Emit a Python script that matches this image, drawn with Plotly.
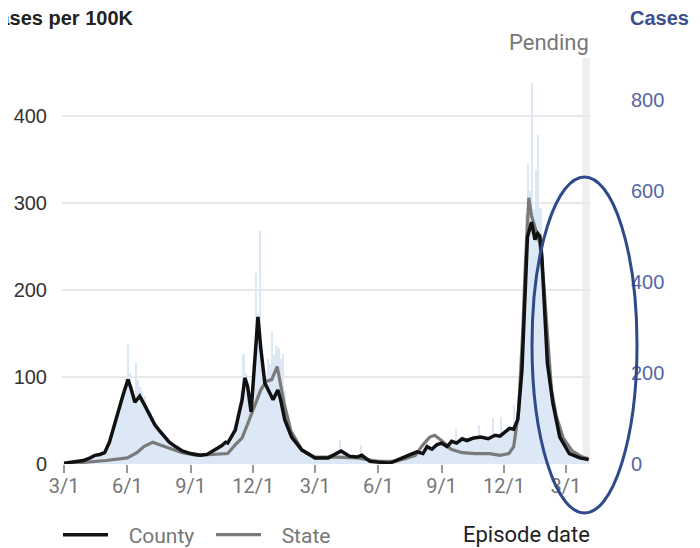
import pandas as pd
import plotly.graph_objects as go

# ---------------- data ----------------
county_dates = [
    "2020-03-01", "2020-03-15", "2020-03-29", "2020-04-08", "2020-04-15", "2020-04-22",
    "2020-04-29", "2020-05-06", "2020-05-12", "2020-05-20", "2020-05-26", "2020-06-02",
    "2020-06-06", "2020-06-12", "2020-06-19", "2020-06-26", "2020-07-03", "2020-07-11",
    "2020-07-18", "2020-07-25", "2020-08-01", "2020-08-10", "2020-08-20", "2020-09-01",
    "2020-09-15", "2020-09-25", "2020-10-06", "2020-10-16", "2020-10-22", "2020-10-25",
    "2020-11-05", "2020-11-15", "2020-11-19", "2020-11-23", "2020-11-28", "2020-12-02",
    "2020-12-08", "2020-12-12", "2020-12-18", "2020-12-25", "2020-12-30", "2021-01-06",
    "2021-01-10", "2021-01-16", "2021-01-26", "2021-02-10", "2021-03-01", "2021-03-20",
    "2021-04-08", "2021-04-20", "2021-05-01", "2021-05-08", "2021-05-20", "2021-06-18",
    "2021-07-07", "2021-07-27", "2021-08-05", "2021-08-11", "2021-08-18", "2021-08-25",
    "2021-09-01", "2021-09-09", "2021-09-16", "2021-09-23", "2021-10-01", "2021-10-08",
    "2021-10-18", "2021-10-28", "2021-11-08", "2021-11-18", "2021-11-25", "2021-12-02",
    "2021-12-09", "2021-12-15", "2021-12-21", "2021-12-27", "2021-12-31", "2022-01-04",
    "2022-01-10", "2022-01-15", "2022-01-19", "2022-01-22", "2022-01-25", "2022-01-29",
    "2022-02-02", "2022-02-10", "2022-02-20", "2022-03-06", "2022-03-21", "2022-04-03",
]
county_rate = [
    1, 2, 4, 7, 10, 11,
    13, 25, 42, 63, 80, 97,
    88, 71, 78, 68, 57, 45,
    38, 32, 25, 20, 15, 12,
    10, 11, 16, 21, 25, 24,
    39, 74, 99, 89, 60, 108,
    169, 134, 93, 82, 74, 85,
    74, 51, 31, 16, 7, 7,
    15, 9, 8, 10, 3, 1,
    7, 14, 12, 20, 17, 22,
    24, 20, 26, 24, 29, 27,
    30, 31, 29, 33, 32, 36,
    41, 40, 51, 108, 185, 261,
    278, 258, 265, 262, 238, 185,
    116, 70, 31, 12, 7, 5,
]

state_dates = [
    "2020-03-01", "2020-04-01", "2020-05-01", "2020-06-01", "2020-06-15", "2020-06-25",
    "2020-07-08", "2020-07-18", "2020-08-01", "2020-08-20", "2020-09-10", "2020-10-05",
    "2020-10-25", "2020-11-05", "2020-11-15", "2020-11-25", "2020-12-05", "2020-12-12",
    "2020-12-20", "2020-12-28", "2021-01-05", "2021-01-09", "2021-01-15", "2021-01-25",
    "2021-02-10", "2021-03-01", "2021-04-01", "2021-05-01", "2021-06-01", "2021-06-25",
    "2021-07-10", "2021-07-25", "2021-08-05", "2021-08-15", "2021-08-22", "2021-09-01",
    "2021-09-15", "2021-10-01", "2021-10-20", "2021-11-10", "2021-11-25", "2021-12-08",
    "2021-12-15", "2021-12-22", "2021-12-28", "2022-01-01", "2022-01-06", "2022-01-10",
    "2022-01-16", "2022-01-22", "2022-01-27", "2022-02-03", "2022-02-08", "2022-02-15",
    "2022-02-25", "2022-03-10", "2022-03-25", "2022-04-03",
]
state_rate = [
    0, 2, 4, 7, 13, 20,
    25, 22, 18, 13, 10, 11,
    12, 22, 30, 50, 72, 85,
    95, 97, 112, 95, 70, 38,
    16, 8, 8, 7, 3, 3,
    6, 10, 22, 31, 33, 27,
    17, 13, 12, 12, 10, 12,
    20, 60, 150, 230, 306, 285,
    268, 254, 215, 140, 85, 55,
    30, 15, 8, 6,
]

# daily case counts, sampled every 3 days starting 2020-03-01 (right axis)
case_start = "2020-03-01"
case_step_days = 3
case_counts = [
    1, 2, 2, 3, 3, 4, 5, 4, 6, 7,
    9, 11, 12, 15, 17, 19, 21, 18, 23, 25,
    30, 36, 50, 60, 85, 95, 118, 125, 150, 165,
    190, 263, 200, 170, 150, 225, 185, 170, 160, 150,
    130, 118, 115, 100, 95, 90, 80, 72, 70, 64,
    60, 52, 50, 42, 40, 35, 34, 30, 27, 26,
    25, 23, 24, 21, 20, 19, 21, 18, 20, 21,
    22, 26, 28, 30, 36, 38, 42, 45, 50, 46,
    55, 60, 72, 85, 110, 130, 160, 241, 200, 175,
    135, 150, 230, 420, 330, 513, 260, 200, 190, 230,
    220, 292, 240, 260, 254, 230, 241, 160, 110, 85,
    65, 55, 45, 40, 36, 30, 28, 24, 22, 20,
    16, 14, 15, 13, 14, 15, 13, 14, 16, 18,
    20, 24, 28, 30, 53, 30, 26, 22, 19, 17,
    15, 16, 18, 20, 42, 14, 10, 8, 6, 6,
    4, 3, 3, 2, 3, 2, 2, 2, 3, 2,
    4, 6, 8, 10, 12, 14, 15, 18, 20, 22,
    26, 28, 27, 24, 26, 33, 40, 38, 36, 34,
    40, 44, 48, 46, 44, 40, 42, 55, 52, 50,
    77, 52, 56, 58, 55, 54, 52, 62, 57, 60,
    60, 86, 62, 60, 58, 57, 58, 62, 100, 64,
    64, 62, 104, 68, 72, 76, 80, 82, 130, 84,
    110, 160, 230, 380, 550, 660, 600, 837, 560, 645,
    722, 563, 440, 360, 260, 195, 160, 135, 110, 88,
    65, 50, 40, 30, 26, 24, 20, 19, 17, 15,
    13, 12, 10, 8, 6,
]

rate_ticks = [0, 100, 200, 300, 400]
case_ticks = [0, 200, 400, 600, 800]
pending_start = "2022-03-25"
pending_end = "2022-04-05"

# ---------------- figure ----------------
bar_dates = pd.date_range(case_start, periods=len(case_counts), freq=f"{case_step_days}D")

NB = "\u00a0"
fig = go.Figure()
fig.add_trace(go.Bar(
    x=bar_dates, y=case_counts, yaxis="y",
    marker=dict(color="#dce8f5", line=dict(width=0)),
    width=case_step_days * 86400000, showlegend=False, hoverinfo="skip",
))
fig.add_trace(go.Scatter(
    x=state_dates, y=state_rate, yaxis="y2", mode="lines", name=NB * 3 + "State",
    line=dict(color="#7a7a7a", width=3.2), legendrank=2,
))
fig.add_trace(go.Scatter(
    x=county_dates, y=county_rate, yaxis="y2", mode="lines", name=NB * 3 + "County",
    line=dict(color="#111111", width=3.5), legendrank=1,
))

fig.add_shape(type="rect", xref="x", yref="paper", x0=pending_start, x1=pending_end,
              y0=0, y1=1, fillcolor="#efefef", line=dict(width=0), layer="below")

# the page body adds an 8px offset; positions below are screenshot pixels
OFF = 8
W, H = 700 - OFF, 548 - OFF
L, T = 62 - OFF, 58 - OFF
R = W - (590 - OFF)
B = H - (464 - OFF)
pw, ph = W - L - R, H - T - B


def px(xs):
    return (xs - OFF - L) / pw


def py(ys):
    return (H - B - (ys - OFF)) / ph


fig.add_shape(type="circle", xref="paper", yref="paper",
              x0=px(532), x1=px(637), y0=py(513), y1=py(177),
              line=dict(color="#2e4a8b", width=3))

fig.add_annotation(text="<b>Cases per 100K</b>", xref="paper", yref="paper",
                   x=px(136), y=py(18), xanchor="right", yanchor="middle", showarrow=False,
                   font=dict(family="Liberation Sans, Arial", size=20, color="#222222"))
fig.add_annotation(text="<b>Cases</b>", xref="paper", yref="paper",
                   x=px(691), y=py(18), xanchor="right", yanchor="middle", showarrow=False,
                   font=dict(family="Liberation Sans, Arial", size=20, color="#3d4e8e"))
fig.add_annotation(text="Pending", xref="paper", yref="paper",
                   x=px(591), y=py(42), xanchor="right", yanchor="middle", showarrow=False,
                   font=dict(family="Roboto", size=22, color="#777777"))
fig.add_annotation(text="Episode date", xref="paper", yref="paper",
                   x=px(526), y=py(534), xanchor="center", yanchor="middle", showarrow=False,
                   font=dict(family="Roboto", size=22, color="#222222"))

fig.update_layout(
    width=W, height=H,
    margin=dict(l=L, r=R, t=T, b=B, autoexpand=False),
    paper_bgcolor="white", plot_bgcolor="white",
    bargap=0,
    xaxis=dict(
        type="date", range=["2020-02-27", "2022-04-05"],
        tick0="2020-03-01", dtick="M3", tickformat="%-m/%-d",
        ticks="outside", ticklen=8, tickwidth=1.5, tickcolor="#999999",
        showgrid=False, zeroline=False, showline=False,
        tickfont=dict(family="Roboto", size=20, color="#777777"),
        ticklabelstandoff=-4,
    ),
    yaxis=dict(
        side="right", range=[0, 892], tickvals=case_ticks,
        showgrid=False, zeroline=False, showline=False,
        tickfont=dict(family="Liberation Sans, Arial", size=20, color="#5566a6"),
        ticklabelstandoff=40,
    ),
    yaxis2=dict(
        side="left", overlaying="y", range=[0, 466.7], tickvals=rate_ticks,
        showgrid=True, gridcolor="#e8e8e8", gridwidth=2, zeroline=False, showline=False,
        tickfont=dict(family="Liberation Sans, Arial", size=20, color="#333333"),
        ticklabelstandoff=14,
    ),
    legend=dict(
        orientation="h", x=px(58), y=py(535), xanchor="left", yanchor="middle",
        font=dict(family="Roboto", size=21, color="#777777"),
        itemwidth=45, entrywidth=93, entrywidthmode="pixels",
        bgcolor="rgba(0,0,0,0)",
    ),
    showlegend=True,
)

fig.write_html("out.html")
